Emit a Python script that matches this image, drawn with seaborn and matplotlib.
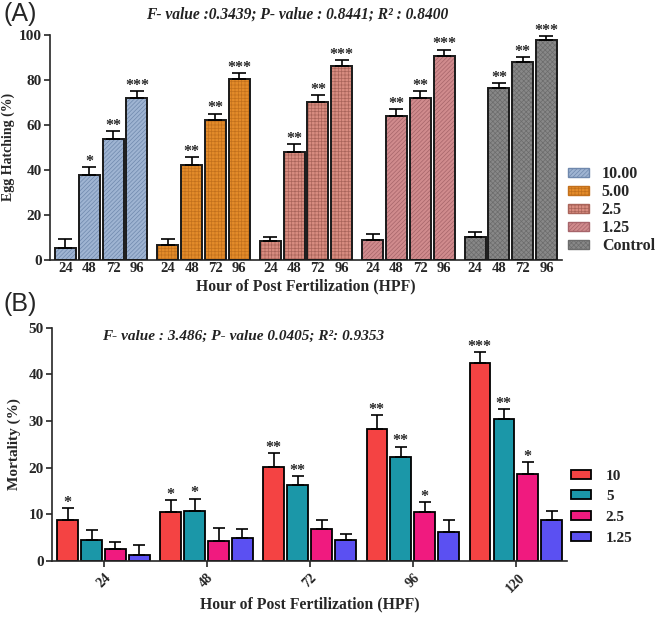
"""Two-panel bar chart: egg hatching (A) and mortality (B) against hours post fertilization."""

import pandas as pd
import matplotlib.pyplot as plt
import matplotlib.patches as mpatches
import seaborn as sns

# ---- Panel A data: egg hatching (%) per concentration, at 24/48/72/96 HPF ----
hours_a = ['24', '48', '72', '96']
conc_a = ['10.00', '5.00', '2.5', '1.25', 'Control']
hatch_10 = [5.6, 37.8, 53.6, 72.1]
hatch_5 = [6.6, 42.1, 62.0, 80.1]
hatch_2_5 = [8.3, 47.9, 70.0, 86.0]
hatch_1_25 = [8.9, 64.0, 71.7, 90.7]
hatch_ctrl = [10.2, 76.3, 88.0, 97.8]
err_hatch_10 = [3.6, 3.3, 3.7, 2.7]
err_hatch_5 = [2.8, 3.7, 3.0, 2.9]
err_hatch_2_5 = [2.0, 3.5, 3.3, 2.6]
err_hatch_1_25 = [2.6, 3.0, 3.1, 2.6]
err_hatch_ctrl = [2.2, 2.2, 2.0, 1.4]
stars_a_10 = ['', '*', '**', '***']
stars_a_rest = ['', '**', '**', '***']

# ---- Panel B data: mortality (%) per concentration, at 24..120 HPF ----
hours_b = ['24', '48', '72', '96', '120']
conc_b = ['10', '5', '2.5', '1.25']
mort_10 = [8.8, 10.6, 20.2, 28.2, 42.5]
mort_5 = [4.6, 10.8, 16.3, 22.3, 30.4]
mort_2_5 = [2.5, 4.3, 6.8, 10.6, 18.6]
mort_1_25 = [1.4, 4.9, 4.5, 6.3, 8.8]
err_mort_10 = [2.6, 2.5, 2.9, 3.1, 2.3]
err_mort_5 = [2.0, 2.6, 1.9, 2.2, 2.2]
err_mort_2_5 = [1.6, 2.8, 2.1, 2.1, 2.6]
err_mort_1_25 = [2.0, 1.9, 1.3, 2.5, 1.9]
stars_mort_10 = ['*', '*', '**', '**', '***']
stars_mort_5 = ['', '*', '**', '**', '**']
stars_mort_2_5 = ['', '', '', '*', '*']
stars_mort_1_25 = ['', '', '', '', '']

text_a = 'F- value :0.3439; P- value : 0.8441; R² : 0.8400'
text_b = 'F- value : 3.486; P- value 0.0405; R²: 0.9353'

# Styles: face colour, hatch pattern and hatch colour for panel A groups.
STYLE_A = {
    '10.00': ('#9fb4d2', '////////', '#6f88ad'),
    '5.00': ('#e38b2a', '+++++', '#c2701c'),
    '2.5': ('#d88c80', '+++++', '#a9645a'),
    '1.25': ('#d08b8d', '////////', '#a6646a'),
    'Control': ('#888888', 'xxxxxxx', '#6c6c6c'),
}
COLORS_B = ['#f44343', '#1b97a8', '#f01a7f', '#5b50f2']

sns.set_theme(style='ticks')
plt.rcParams['font.family'] = ['Liberation Serif', 'DejaVu Serif']
plt.rcParams['font.weight'] = 'bold'
plt.rcParams['axes.labelweight'] = 'bold'
plt.rcParams['hatch.linewidth'] = 0.5
plt.rcParams['axes.linewidth'] = 1.2

fig = plt.figure(figsize=(6.58, 6.18), dpi=100)
ax_a = fig.add_axes([0.076, 0.579, 0.778, 0.365])
ax_b = fig.add_axes([0.079, 0.092, 0.783, 0.378])

# ---------------- Panel A ----------------
vals_a = [hatch_10, hatch_5, hatch_2_5, hatch_1_25, hatch_ctrl]
errs_a = [err_hatch_10, err_hatch_5, err_hatch_2_5, err_hatch_1_25, err_hatch_ctrl]
df_a = pd.DataFrame(
    [(c, h, v) for c, vals in zip(conc_a, vals_a) for h, v in zip(hours_a, vals)],
    columns=['conc', 'hour', 'value'],
)
sns.barplot(data=df_a, x='conc', y='value', hue='hour', order=conc_a,
            hue_order=hours_a, width=0.93, gap=0.12, errorbar=None,
            legend=False, ax=ax_a)

centers, labels = [], []
bar_groups_a = list(ax_a.containers)  # one container per hour
for j, cont in enumerate(bar_groups_a):
    for i, bar in enumerate(cont):
        face, hatch, shade = STYLE_A[conc_a[i]]
        bar.set_facecolor(face)
        bar.set_hatch(hatch)
        bar.set_edgecolor(shade)
        bar.set_linewidth(0)
        # dark outline on top, hatch keeps its own shade
        ax_a.add_patch(mpatches.Rectangle(bar.get_xy(), bar.get_width(), bar.get_height(),
                                          fill=False, ec='#1a1a1a', lw=1.4, zorder=3))
        x = bar.get_x() + bar.get_width() / 2
        y = bar.get_height()
        e = errs_a[i][j]
        ax_a.errorbar(x, y, yerr=[[0], [e]], color='black', lw=1.2,
                      capsize=5, capthick=1.2, zorder=4)
        star = stars_a_10[j] if i == 0 else stars_a_rest[j]
        if star:
            ax_a.text(x, y + e - 1.2, star, ha='center', va='bottom', fontsize=11.5)
        centers.append(x)
        labels.append(hours_a[j])

ax_a.set_xticks(centers, labels)
ax_a.tick_params(axis='x', length=0, pad=1, labelsize=10.5)
ax_a.tick_params(axis='y', length=4, width=1.2, labelsize=11, pad=2)
ax_a.set_xlim(-0.5, 4.5)
ax_a.set_ylim(0, 100)
ax_a.set_yticks([0, 20, 40, 60, 80, 100])
ax_a.set_xlabel('Hour of Post Fertilization (HPF)', fontsize=11.3, labelpad=3)
ax_a.set_ylabel('Egg Hatching (%)', fontsize=10, labelpad=3)
sns.despine(ax=ax_a)

handles_a = [mpatches.Patch(facecolor=STYLE_A[c][0], hatch=STYLE_A[c][1],
                            edgecolor=STYLE_A[c][2], label=c) for c in conc_a]
ax_a.legend(handles=handles_a, loc='lower left', bbox_to_anchor=(1.0, 0.0),
            frameon=False, fontsize=11.5, handlelength=1.3, handleheight=0.5,
            labelspacing=0.12, handletextpad=0.8, borderaxespad=0)

fig.text(0.451, 0.976, text_a, ha='center', va='center', fontsize=11.2,
         style='italic', color='#222222')

# ---------------- Panel B ----------------
vals_b = [mort_10, mort_5, mort_2_5, mort_1_25]
errs_b = [err_mort_10, err_mort_5, err_mort_2_5, err_mort_1_25]
stars_b = [stars_mort_10, stars_mort_5, stars_mort_2_5, stars_mort_1_25]
df_b = pd.DataFrame(
    [(h, c, v) for c, vals in zip(conc_b, vals_b) for h, v in zip(hours_b, vals)],
    columns=['hour', 'conc', 'value'],
)
sns.barplot(data=df_b, x='hour', y='value', hue='conc', order=hours_b,
            hue_order=conc_b, palette=COLORS_B, saturation=1, width=0.93, gap=0.15,
            edgecolor='black', linewidth=1.3, errorbar=None, legend=False, ax=ax_b)

bar_groups_b = list(ax_b.containers)  # one container per concentration
for k, cont in enumerate(bar_groups_b):
    for i, bar in enumerate(cont):
        x = bar.get_x() + bar.get_width() / 2
        y = bar.get_height()
        e = errs_b[k][i]
        ax_b.errorbar(x, y, yerr=[[0], [e]], color='black', lw=1.2,
                      capsize=4, capthick=1.2, zorder=4)
        if stars_b[k][i]:
            ax_b.text(x, y + e - 0.6, stars_b[k][i], ha='center', va='bottom', fontsize=11.5)

ax_b.set_xlim(-0.5, 4.5)
ax_b.set_ylim(0, 50)
ax_b.set_yticks([0, 10, 20, 30, 40, 50])
ax_b.tick_params(axis='x', length=4, width=1.2, labelsize=10, rotation=45, pad=3)
ax_b.tick_params(axis='y', length=4, width=1.2, labelsize=11, pad=2)
ax_b.set_xlabel('Hour of Post Fertilization (HPF)', fontsize=11.3, labelpad=1)
ax_b.set_ylabel('Mortality (%)', fontsize=11, labelpad=5)
sns.despine(ax=ax_b)

handles_b = [mpatches.Patch(facecolor=col, edgecolor='black', lw=1.3, label=c)
             for c, col in zip(conc_b, COLORS_B)]
ax_b.legend(handles=handles_b, loc='lower left', bbox_to_anchor=(0.995, 0.045),
            frameon=False, fontsize=11, handlelength=1.3, handleheight=0.55,
            labelspacing=0.5, handletextpad=1.0, borderaxespad=0)

ax_b.text(0.371, 0.964, text_b, transform=ax_b.transAxes, ha='center', va='center',
          fontsize=11, style='italic', color='#222222')

# Panel letters
fig.text(0.006, 0.997, '(A)', ha='left', va='top', fontsize=18,
         family='Liberation Sans', weight='normal')
fig.text(0.006, 0.528, '(B)', ha='left', va='top', fontsize=18,
         family='Liberation Sans', weight='normal')

fig.savefig('out.png', dpi=100)
